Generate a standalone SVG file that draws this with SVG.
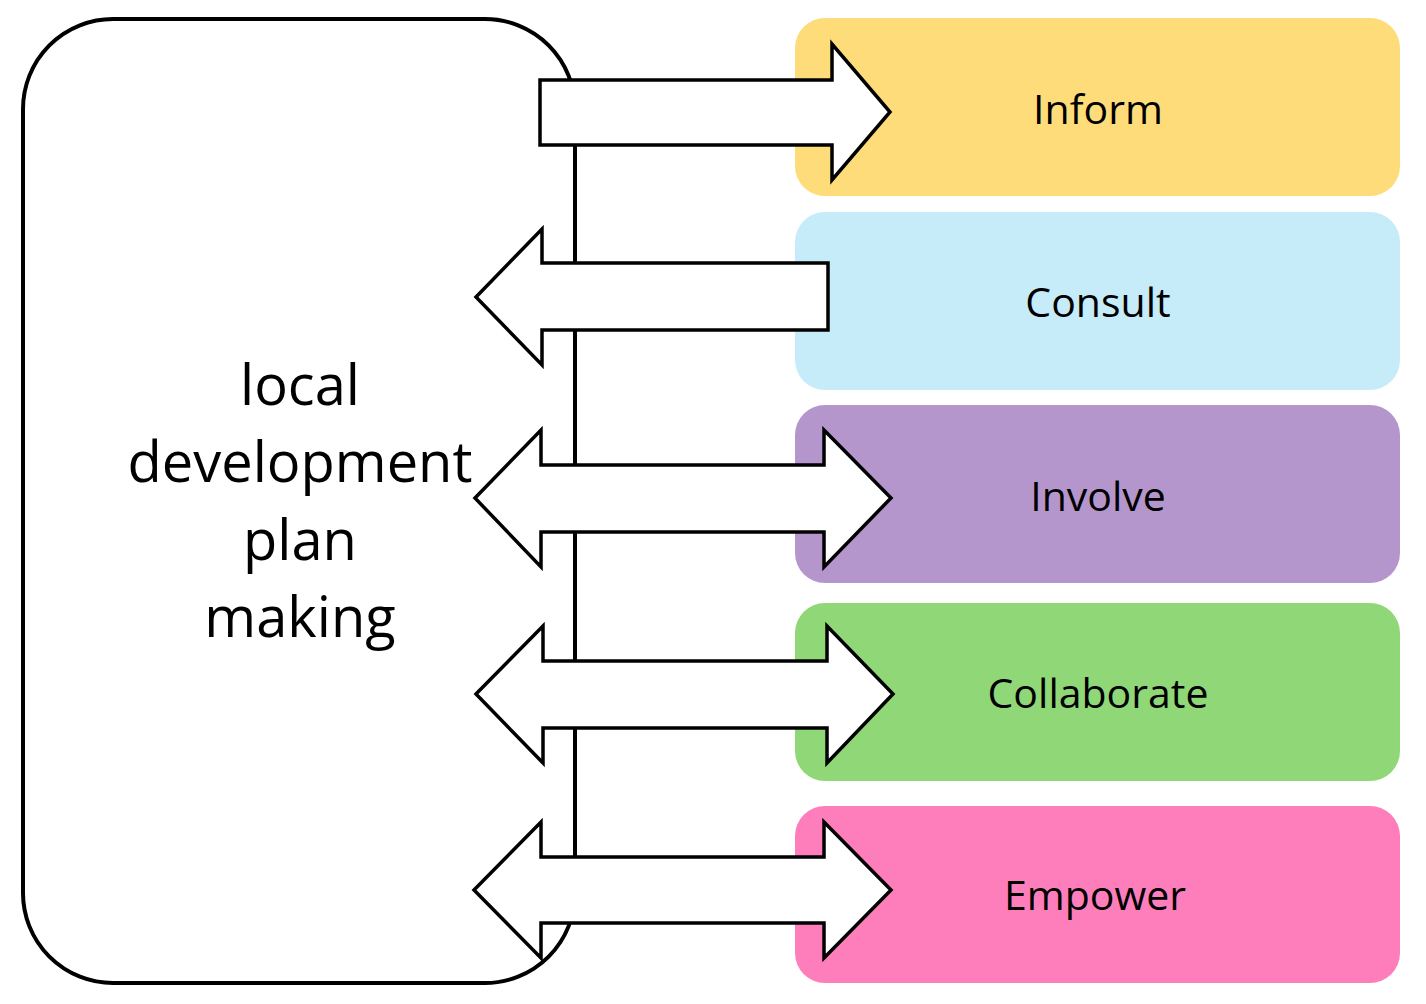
<svg xmlns="http://www.w3.org/2000/svg" width="1426" height="1004" viewBox="0 0 1426 1004">
<style>
.box{stroke:none}
.lbl{font-family:"Open Sans","Liberation Sans",sans-serif;font-size:41px;fill:#000;text-anchor:middle}
.main{font-family:"Open Sans","Liberation Sans",sans-serif;font-size:56px;fill:#000;text-anchor:middle}
.arrow{fill:#fff;stroke:#000;stroke-width:3.5;stroke-linejoin:miter}
</style>
<rect width="1426" height="1004" fill="#fff"/>
<g id="ldp">
<rect x="23" y="19" width="552" height="964" rx="90" ry="90" fill="#fff" stroke="#000" stroke-width="4"/>
<text class="main" x="300" y="405">local</text>
<text class="main" x="300" y="482">development</text>
<text class="main" x="300" y="560">plan</text>
<text class="main" x="300" y="637">making</text>
</g>
<g id="inform">
<rect class="box" x="795" y="18" width="605" height="178" rx="30" fill="#FEDC7A"/>
<text class="lbl" x="1098" y="124">Inform</text>
</g>
<g id="consult">
<rect class="box" x="795" y="212" width="605" height="178" rx="30" fill="#C6ECFA"/>
<text class="lbl" x="1098" y="317">Consult</text>
</g>
<g id="involve">
<rect class="box" x="795" y="405" width="605" height="178" rx="30" fill="#B496CD"/>
<text class="lbl" x="1098" y="511">Involve</text>
</g>
<g id="collaborate">
<rect class="box" x="795" y="603" width="605" height="178" rx="30" fill="#90D877"/>
<text class="lbl" x="1098" y="708">Collaborate</text>
</g>
<g id="empower">
<rect class="box" x="795" y="806" width="605" height="177" rx="30" fill="#FE7EBC"/>
<text class="lbl" x="1095" y="910">Empower</text>
</g>
<g id="connectors">
<polygon class="arrow" points="540,80 832,80 832,44 890,112 832,180 832,145 540,145"/>
<polygon class="arrow" points="828,263 542,263 542,229 476,297 542,365 542,330 828,330"/>
<polygon class="arrow" points="475,498 541,430 541,465 824,465 824,430 891,498 824,567 824,532 541,532 541,567"/>
<polygon class="arrow" points="476,694 543,626 543,661 827,661 827,626 893,694 827,763 827,728 543,728 543,763"/>
<polygon class="arrow" points="474,890 541,822 541,857 824,857 824,822 891,890 824,958 824,923 541,923 541,958"/>
</g>
</svg>
